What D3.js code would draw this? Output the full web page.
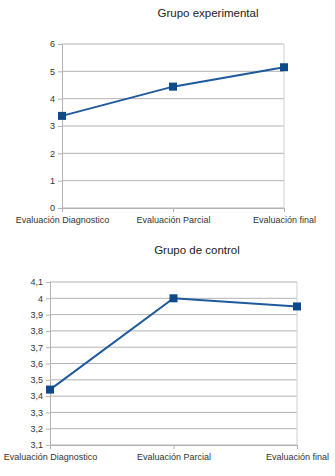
<!DOCTYPE html>
<html><head><meta charset="utf-8">
<script src="https://cdn.jsdelivr.net/npm/d3@7"></script>
<style>
html,body{margin:0;padding:0;background:#fff;}
svg{display:block;font-family:"Liberation Sans",Arial,sans-serif;}
</style></head>
<body>
<svg id="c" width="335" height="476"></svg>
<script>
const categories = ["Evaluación Diagnostico", "Evaluación Parcial", "Evaluación final"];
const expTitle = "Grupo experimental";
const expValues = [3.37, 4.44, 5.15];
const expTicks = [0, 1, 2, 3, 4, 5, 6];
const ctlTitle = "Grupo de control";
const ctlValues = [3.44, 4.0, 3.95];
const ctlTicks = [3.1, 3.2, 3.3, 3.4, 3.5, 3.6, 3.7, 3.8, 3.9, 4.0, 4.1];

const svg = d3.select("#c");
const fmt = v => String(+v.toFixed(1)).replace(".", ",");

function drawChart(cfg) {
  const g = svg.append("g");
  const x = d3.scalePoint().domain(categories).range([cfg.left, cfg.right]);
  const y = d3.scaleLinear().domain(cfg.domain).range([cfg.bottom, cfg.top]);

  g.append("text").attr("x", cfg.titleX).attr("y", cfg.titleY)
    .attr("text-anchor", "middle").attr("font-size", 11.5).attr("fill", "#222")
    .text(cfg.title);

  g.selectAll(".grid").data(cfg.ticks).enter().append("line")
    .attr("x1", cfg.left).attr("x2", cfg.right)
    .attr("y1", d => y(d)).attr("y2", d => y(d))
    .attr("stroke", "#b3b3b3").attr("stroke-width", 1);
  g.append("line").attr("x1", cfg.right).attr("x2", cfg.right)
    .attr("y1", cfg.top).attr("y2", cfg.bottom).attr("stroke", "#d0d0d0");

  const ya = d3.axisLeft(y).tickValues(cfg.ticks).tickFormat(cfg.fmt).tickSize(4).tickPadding(3);
  const yg = g.append("g").attr("transform", `translate(${cfg.left},0)`).call(ya);
  yg.select(".domain").attr("stroke", "#b3b3b3");
  yg.selectAll(".tick line").attr("stroke", "#b3b3b3");
  yg.selectAll("text").attr("font-size", 9).attr("fill", "#333").attr("font-family", "Liberation Sans, Arial, sans-serif");

  const xa = d3.axisBottom(x).tickSize(4).tickPadding(5);
  const xg = g.append("g").attr("transform", `translate(0,${cfg.bottom})`).call(xa);
  xg.select(".domain").attr("stroke", "#b3b3b3");
  xg.selectAll(".tick line").attr("stroke", "#b3b3b3");
  xg.selectAll("text").attr("font-size", 9).attr("fill", "#333").attr("font-family", "Liberation Sans, Arial, sans-serif");

  const line = d3.line().x((d, i) => x(categories[i])).y(d => y(d));
  g.append("path").datum(cfg.values).attr("d", line)
    .attr("fill", "none").attr("stroke", "#1f5a9c").attr("stroke-width", 2);
  g.selectAll(".pt").data(cfg.values).enter().append("rect")
    .attr("x", (d, i) => x(categories[i]) - 4).attr("y", d => y(d) - 4)
    .attr("width", 8).attr("height", 8).attr("fill", "#0d4a8a");
}

drawChart({title: expTitle, titleX: 208, titleY: 17, values: expValues, ticks: expTicks,
  domain: [0, 6], left: 62, right: 284, top: 44, bottom: 208, fmt: d3.format("d")});
drawChart({title: ctlTitle, titleX: 197, titleY: 254, values: ctlValues, ticks: ctlTicks,
  domain: [3.1, 4.1], left: 50, right: 297, top: 282, bottom: 445, fmt: fmt});
</script>
</body></html>
